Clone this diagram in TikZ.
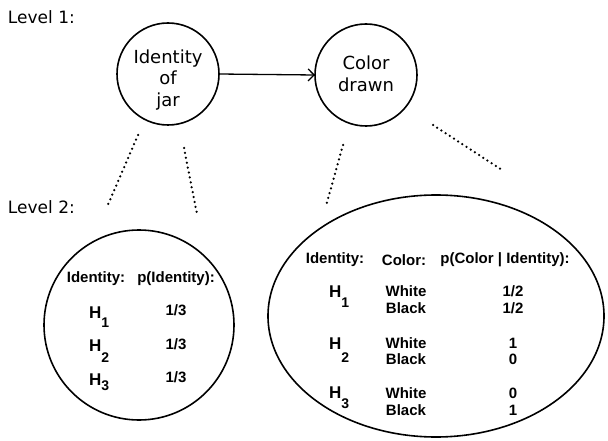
\documentclass[tikz,border=0pt]{standalone}
\usepackage{fontspec}
\setmainfont{DejaVu Sans}
\newfontfamily\tabfont{Liberation Sans}
\usetikzlibrary{arrows.meta,shapes.geometric}

% H with a dropped index: #1 = index, #2 = drop
\newcommand{\Hidx}[2]{H\raisebox{-#2}{\fontsize{14}{14}\selectfont #1}}

\begin{document}
\begin{tikzpicture}[x=1pt,y=-1pt,
  every node/.style={inner sep=0pt,outer sep=0pt},
  lvl/.style={anchor=west,font=\fontsize{17}{17}\selectfont},
  var/.style={circle,draw,line width=1.6pt},
  vtext/.style={align=center,font=\fontsize{18}{21.5}\selectfont},
  cpt/.style={draw,line width=1.6pt},
  cell/.style={font=\tabfont\bfseries\fontsize{15}{15}\selectfont},
  hyp/.style={anchor=base west,font=\tabfont\bfseries\fontsize{17}{17}\selectfont},
  link/.style={line width=2.5pt,line cap=round,dash pattern=on 0pt off 5pt}
]
\useasboundingbox (0,0) rectangle (608,441);

% level labels
\node[lvl] (lv1) at (8,17) {Level 1:};
\node[lvl] (lv2) at (8,207) {Level 2:};

% level 1 variables
\node[var,minimum size=102pt] (jar) at (168,74) {};
\node[vtext] (jart) at (168,80) {Identity\\of\\jar};
\node[var,minimum size=102pt] (col) at (366,75) {};
\node[vtext] (colt) at (366,74) {Color\\drawn};
\draw[line width=1.3pt,-{Straight Barb[length=6pt,width=12pt,line width=1.3pt]}]
  (jar.east) -- (col.west);

% level 2 tables
\node[cpt,circle,minimum size=190pt] (tjar) at (139,325) {};
\node[cpt,ellipse,minimum width=336pt,minimum height=242pt] (tcol) at (436,316) {};

% dotted links between the levels
\coordinate (a1) at (138,135); \coordinate (a2) at (107,207);
\coordinate (b1) at (184,148); \coordinate (b2) at (197,214);
\coordinate (c1) at (343,145); \coordinate (c2) at (326,206);
\coordinate (e1) at (433,125); \coordinate (e2) at (502,170);
\draw[link] (a1) -- (a2);
\draw[link] (b1) -- (b2);
\draw[link] (c1) -- (c2);
\draw[link] (e1) -- (e2);

% prior table
\node[cell] (ph1) at (96,279) {Identity:};
\node[cell] (ph2) at (176,279) {p(Identity):};
\node[hyp] (ph1a) at (89,318) {\Hidx{1}{9pt}};
\node[hyp] (ph1b) at (89,351) {\Hidx{2}{11pt}};
\node[hyp] (ph1c) at (89,385) {\Hidx{3}{5pt}};
\node[cell] (pv1) at (176,310) {1/3};
\node[cell] (pv2) at (176,344) {1/3};
\node[cell] (pv3) at (176,377) {1/3};

% conditional table
\node[cell] (ch1) at (335,260) {Identity:};
\node[cell] (ch2) at (404,260) {Color:};
\node[cell] (ch3) at (505,260) {p(Color | Identity):};
\node[hyp] (cha) at (329,297) {\Hidx{1}{10pt}};
\node[hyp] (chb) at (329,349) {\Hidx{2}{13pt}};
\node[hyp] (chc) at (329,398) {\Hidx{3}{10pt}};
\node[cell] (cw1) at (406,291) {White};
\node[cell] (cb1) at (406,308) {Black};
\node[cell] (cw2) at (406,343) {White};
\node[cell] (cb2) at (406,359) {Black};
\node[cell] (cw3) at (406,393) {White};
\node[cell] (cb3) at (406,410) {Black};
\node[cell] (cv1) at (513,291) {1/2};
\node[cell] (cv2) at (513,308) {1/2};
\node[cell] (cv3) at (513,343) {1};
\node[cell] (cv4) at (513,359) {0};
\node[cell] (cv5) at (513,393) {0};
\node[cell] (cv6) at (513,410) {1};
\end{tikzpicture}
\end{document}
